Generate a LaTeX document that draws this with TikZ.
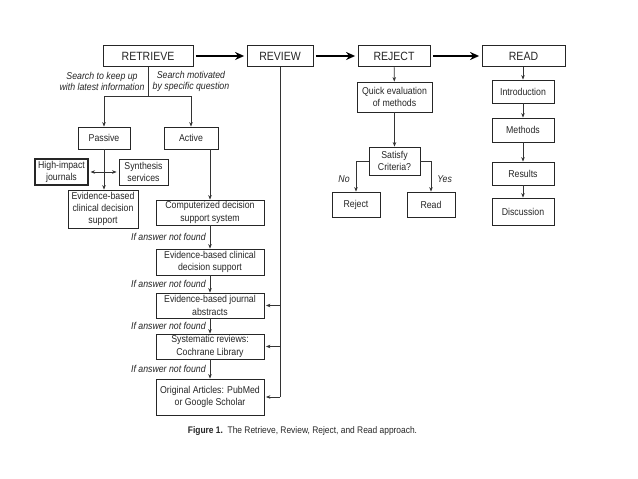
\documentclass[tikz,border=0pt]{standalone}
\usepackage{fontspec}
\setmainfont{Liberation Sans}[FakeStretch=0.88]
\usetikzlibrary{arrows.meta}
\begin{document}
\begin{tikzpicture}[x=1bp,y=-1bp,
  box/.style={draw=black!85, line width=0.8bp, fill=white, align=center, inner sep=0pt, text=black!85, font=\fontsize{10}{12.3}\selectfont},
  topbox/.style={box, font=\fontsize{12}{14}\selectfont, minimum height=21bp},
  bigarrow/.style={draw=black, line width=2.1bp, -{Stealth[length=9bp,width=8bp]}, shorten >=2.5bp, shorten <=2.5bp},
  conn/.style={draw=black!80, line width=0.7bp},
  arr/.style={conn, -{Stealth[length=4.5bp,width=3.5bp]}},
  lbl/.style={font=\itshape\fontsize{10}{11.5}\selectfont, align=center, inner sep=0pt, text=black!85}]
\fill[white] (0,0) rectangle (638,479);
\useasboundingbox (0,0) rectangle (638,479);

% top row
\node[topbox, minimum width=90bp] (retrieve) at (148,56) {RETRIEVE};
\node[topbox, minimum width=66bp] (review) at (280,56) {REVIEW};
\node[topbox, minimum width=72bp] (reject) at (394,56) {REJECT};
\node[topbox, minimum width=83bp] (read) at (523.5,56) {READ};
\draw[bigarrow] (retrieve) -- (review);
\draw[bigarrow] (review) -- (reject);
\draw[bigarrow] (reject) -- (read);

% retrieve branch
\node[lbl] (lk) at (102,81.5) {Search to keep up\\with latest information};
\node[lbl] (lm) at (191,81.5) {Search motivated\\by specific question};
\node[box, minimum width=52bp, minimum height=22bp] (passive) at (104,138) {Passive};
\node[box, minimum width=54bp, minimum height=22bp] (active) at (191,138) {Active};
\coordinate (sp) at (148,96);
\draw[conn] (retrieve.south) -- (sp);
\draw[arr] (sp) -| (passive.north);
\draw[arr] (sp) -| (active.north);

\node[box, line width=1.1bp, minimum width=53bp, minimum height=26bp] (high) at (61.5,172) {High-impact\\journals};
\node[box, minimum width=49bp, minimum height=26bp] (synth) at (143.5,172) {Synthesis\\services};
\node[box, minimum width=70bp, minimum height=38bp] (ebcds1) at (103,209) {Evidence-based\\clinical decision\\support};
\draw[arr] (passive.south) -- (passive.south |- ebcds1.north);
\draw[arr, {Stealth[length=4.5bp,width=3.5bp]}-{Stealth[length=4.5bp,width=3.5bp]}, shorten <=2bp, shorten >=2bp] (high.east) -- (synth.west);

% active chain
\node[box, minimum width=108bp, minimum height=25bp] (comp) at (210,212.5) {Computerized decision\\support system};
\node[box, minimum width=108bp, minimum height=26bp] (ebcds2) at (210,262) {Evidence-based clinical\\decision support};
\node[box, minimum width=108bp, minimum height=25bp] (journal) at (210,305.5) {Evidence-based journal\\abstracts};
\node[box, minimum width=108bp, minimum height=25bp] (syst) at (210,346.5) {Systematic reviews:\\Cochrane Library};
\node[box, minimum width=108bp, minimum height=36bp] (orig) at (210,397) {Original Articles: PubMed\\or Google Scholar};
\draw[arr] (active.south -| comp.north) -- (comp.north);
\draw[arr] (comp) -- node[lbl, left=4bp] {If answer not found} (ebcds2);
\draw[arr] (ebcds2) -- node[lbl, left=4bp] {If answer not found} (journal);
\draw[arr] (journal) -- node[lbl, left=4bp] {If answer not found} (syst);
\draw[arr] (syst) -- node[lbl, left=4bp] {If answer not found} (orig);

% review line
\coordinate (rvb) at (review.south |- orig.east);
\draw[conn] (review.south) -- (rvb);
\draw[arr, shorten >=1.5bp] (rvb) -- (orig.east);
\draw[arr, shorten >=1.5bp] (review.south |- journal.east) -- (journal.east);
\draw[arr, shorten >=1.5bp] (review.south |- syst.east) -- (syst.east);

% reject column
\node[box, minimum width=75bp, minimum height=30bp] (quick) at (394.5,97) {Quick evaluation\\of methods};
\node[box, minimum width=51bp, minimum height=28bp] (satisfy) at (394.5,161) {Satisfy\\Criteria?};
\node[box, minimum width=48bp, minimum height=25bp] (rej2) at (356,204.5) {Reject};
\node[box, minimum width=48bp, minimum height=25bp] (read2) at (431,204.5) {Read};
\draw[arr] (reject) -- (quick);
\draw[arr] (quick) -- (satisfy);
\draw[arr] (satisfy.west) -| node[lbl, pos=0.8, left=6bp] {No} (rej2.north);
\draw[arr] (satisfy.east) -| node[lbl, pos=0.8, right=6bp] {Yes} (read2.north);

% read column
\node[box, minimum width=62bp, minimum height=23bp] (intro) at (523,91.5) {Introduction};
\node[box, minimum width=62bp, minimum height=24bp] (meth) at (523,130) {Methods};
\node[box, minimum width=62bp, minimum height=23bp] (res) at (523,173.5) {Results};
\node[box, minimum width=62bp, minimum height=27bp] (disc) at (523,211.5) {Discussion};
\draw[arr] (read.south -| intro.north) -- (intro.north);
\draw[arr] (intro) -- (meth);
\draw[arr] (meth) -- (res);
\draw[arr] (res) -- (disc);

% caption
\node[font=\fontsize{9.6}{11}\selectfont, inner sep=0pt, text=black!85] (cap) at (302.5,431) {\textbf{Figure 1.}\ \ The Retrieve, Review, Reject, and Read approach.};
\end{tikzpicture}
\end{document}
